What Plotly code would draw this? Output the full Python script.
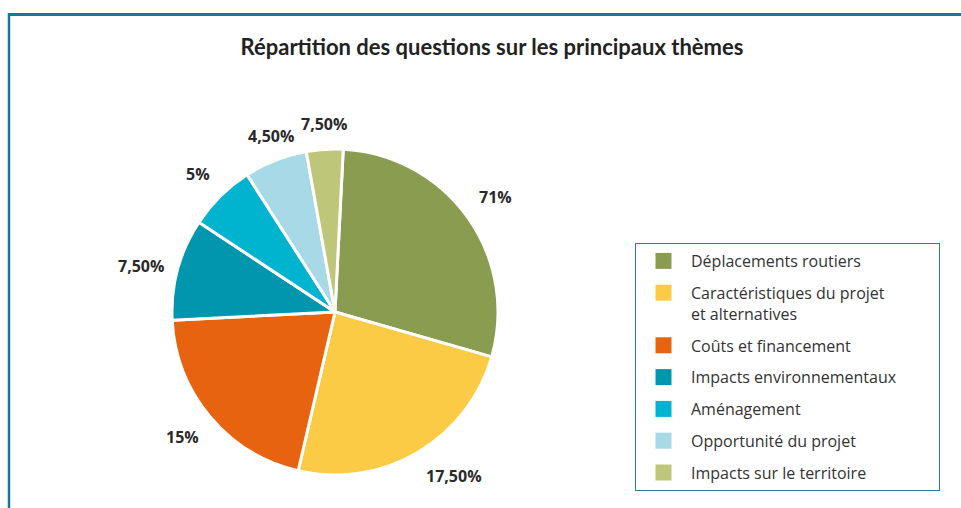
import math
import plotly.graph_objects as go

title_text = "Répartition des questions sur les principaux thèmes"
categories = [
    "Déplacements routiers",
    "Caractéristiques du projet<br>et alternatives",
    "Coûts et financement",
    "Impacts environnementaux",
    "Aménagement",
    "Opportunité du projet",
    "Impacts sur le territoire",
]
slice_values = [71, 60, 51, 25, 16.5, 15.5, 9]
slice_labels = ["71%", "17,50%", "15%", "7,50%", "5%", "4,50%", "7,50%"]
colors = ["#899c50", "#fccb45", "#e8630f", "#0096ae", "#00b4d0", "#a7d9e7", "#bec679"]

FONT = "Open Sans"
W, H = 961, 508
ROTATION = 2.9

# pie domain (paper fractions)
dom_x = [(335 - 163) / W, (335 + 163) / W]
dom_y = [1 - 475 / H, 1 - 149 / H]

fig = go.Figure()
fig.add_trace(go.Pie(
    labels=categories,
    values=slice_values,
    textinfo="none",
    sort=False,
    direction="clockwise",
    rotation=ROTATION,
    marker=dict(colors=colors, line=dict(color="white", width=3)),
    domain=dict(x=dom_x, y=dom_y),
    showlegend=False,
    hoverinfo="label+percent",
))

# outside labels, placed at each slice's mid-angle (derived from the values)
cx = (dom_x[0] + dom_x[1]) / 2 * W
cy = (1 - (dom_y[0] + dom_y[1]) / 2) * H
r = min((dom_x[1] - dom_x[0]) * W, (dom_y[1] - dom_y[0]) * H) / 2
total = sum(slice_values)
cum = 0.0
annotations = []
for v, lab in zip(slice_values, slice_labels):
    mid = math.radians(ROTATION + 360 * (cum + v / 2) / total)
    cum += v
    s, c = math.sin(mid), -math.cos(mid)
    px = cx + (r + 12) * s
    py = cy + (r + 12) * c
    if abs(s) < 0.4:
        xa = "center"
    else:
        xa = "left" if s > 0 else "right"
    if abs(c) < 0.4:
        ya = "middle"
    else:
        ya = "top" if c > 0 else "bottom"
    annotations.append(dict(
        x=px / W, y=1 - py / H, xref="paper", yref="paper",
        text=lab, showarrow=False, xanchor=xa, yanchor=ya,
        font=dict(family=FONT, size=16, color="#2a2a2a", weight="bold"),
    ))

for i, (cat, col) in enumerate(zip(categories, colors)):
    name = cat
    if cat == "Impacts environnementaux":
        name = cat + "\u00a0" * 9
    fig.add_trace(go.Scatter(
        x=[None], y=[None], mode="markers", name=name,
        marker=dict(symbol="square", size=16, color=col),
        legendgroup="g%d" % i, showlegend=True, hoverinfo="skip",
    ))

fig.update_layout(
    width=W, height=H,
    margin=dict(l=0, r=0, t=0, b=0),
    paper_bgcolor="white", plot_bgcolor="white",
    xaxis=dict(visible=False), yaxis=dict(visible=False),
    title=dict(text=title_text, x=492 / W, xanchor="center",
               y=1 - 47 / H, yanchor="middle",
               font=dict(family="Lato", size=22, color="#222222", weight="bold")),
    legend=dict(
        x=635 / W, y=1 - 243 / H, xanchor="left", yanchor="top",
        bordercolor="#2a7f9a", borderwidth=1, bgcolor="white",
        font=dict(family=FONT, size=16, color="#333333"),
        tracegroupgap=8, valign="top", itemwidth=45,
    ),
    annotations=annotations,
    shapes=[
        dict(type="line", xref="paper", yref="paper", x0=8 / W, x1=1, y0=1 - 14.5 / H, y1=1 - 14.5 / H,
             line=dict(color="#17799a", width=3)),
        dict(type="line", xref="paper", yref="paper", x0=9 / W, x1=9 / W, y0=1 - 13 / H, y1=0,
             line=dict(color="#17799a", width=2.5)),
    ],
)

fig.write_html("out.html", config={"displayModeBar": False},
               post_script="document.body.style.margin='0';document.body.style.overflow='hidden';")
